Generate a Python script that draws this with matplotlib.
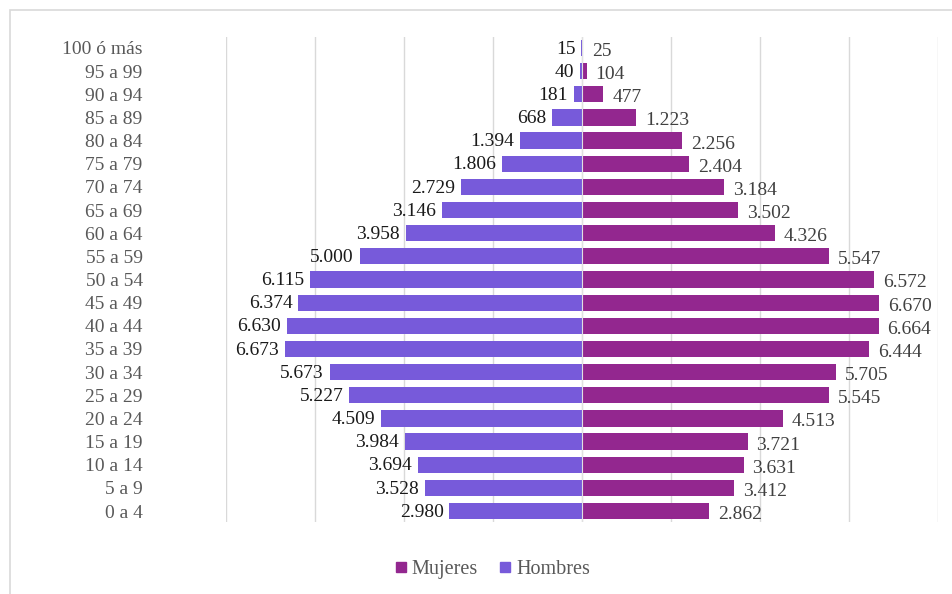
import numpy as np
import matplotlib.pyplot as plt
from matplotlib.patches import Rectangle
from matplotlib.lines import Line2D

plt.rcParams['font.family'] = ['Liberation Serif', 'DejaVu Serif']

# Grupos de edad, de arriba hacia abajo
edades = ['100 ó más', '95 a 99', '90 a 94', '85 a 89', '80 a 84', '75 a 79',
          '70 a 74', '65 a 69', '60 a 64', '55 a 59', '50 a 54', '45 a 49',
          '40 a 44', '35 a 39', '30 a 34', '25 a 29', '20 a 24', '15 a 19',
          '10 a 14', '5 a 9', '0 a 4']
hombres = [15, 40, 181, 668, 1394, 1806, 2729, 3146, 3958, 5000, 6115, 6374,
           6630, 6673, 5673, 5227, 4509, 3984, 3694, 3528, 2980]
mujeres = [25, 104, 477, 1223, 2256, 2404, 3184, 3502, 4326, 5547, 6572, 6670,
           6664, 6444, 5705, 5545, 4513, 3721, 3631, 3412, 2862]

color_h = '#775ADA'
color_m = '#93278F'

def fmt(v):
    return f"{v:,}".replace(',', '.')

fig = plt.figure(figsize=(9.52, 5.94), dpi=100)
ax = fig.add_axes([226/952, 1 - 522/594, (938 - 226)/952, (522 - 37)/594])

# borde del gráfico
fig.patches.append(Rectangle((10/952, -0.05), 1.1, 1 - 10/594 + 0.05,
                             transform=fig.transFigure, fill=False,
                             edgecolor='#d9d9d9', linewidth=1.2))

y = np.arange(len(edades))[::-1]
ax.barh(y, -np.array(hombres), height=0.7, color=color_h, zorder=2)
ax.barh(y, mujeres, height=0.7, color=color_m, zorder=2)
ax.axvline(0, color='#e0e0e0', linewidth=0.8, zorder=3)

for yi, h, m in zip(y, hombres, mujeres):
    ax.text(-h - 130, yi - 0.05, fmt(h), ha='right', va='center',
            fontsize=14, color='#1a1a1a')
    ax.text(m + 200, yi - 0.15, fmt(m), ha='left', va='center',
            fontsize=14, color='#404040')

ax.set_xlim(-8000, 8000)
ax.set_ylim(-0.475, len(edades) - 0.525)
ax.set_xticks(np.arange(-8000, 8001, 2000))
ax.set_xticklabels([])
ax.set_yticks(y)
ax.set_yticklabels(edades, fontsize=14, color='#595959')
ax.tick_params(axis='y', length=0, pad=60)
ax.tick_params(axis='x', length=0)
ax.grid(axis='x', color='#d9d9d9', linewidth=1, zorder=0)
ax.set_axisbelow(True)
for s in ax.spines.values():
    s.set_visible(False)

handles = [Line2D([], [], marker='s', linestyle='none', markersize=7,
                  color=color_m, label='Mujeres'),
           Line2D([], [], marker='s', linestyle='none', markersize=7,
                  color=color_h, label='Hombres')]
fig.legend(handles=handles, loc='center', bbox_to_anchor=(492/952, 1 - 569/594),
           ncol=2, frameon=False, fontsize=14.5, handlelength=0.7,
           handletextpad=0.2, columnspacing=1.0, labelcolor='#595959')

fig.savefig('out.png', dpi=100)
